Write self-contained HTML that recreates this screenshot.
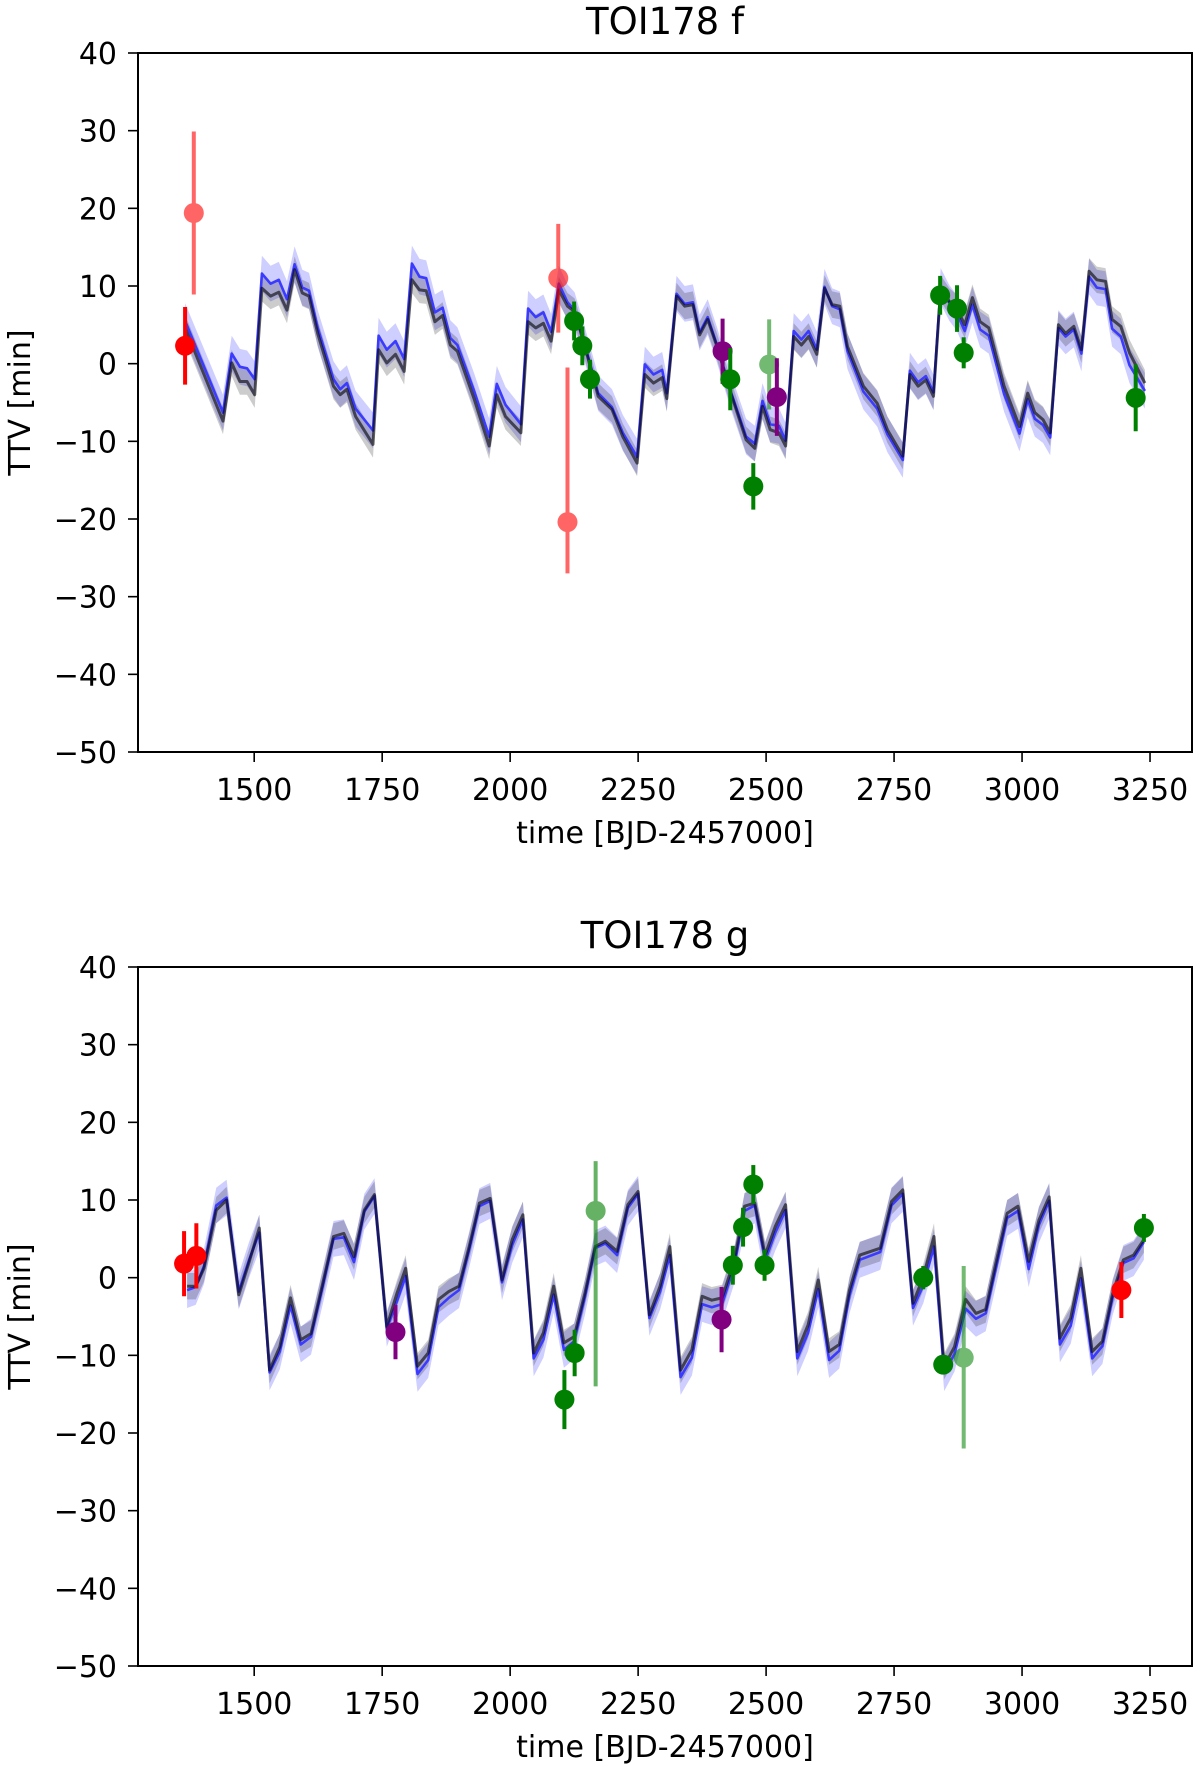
<!DOCTYPE html>
<html><head><meta charset="utf-8"><style>
html,body{margin:0;padding:0;background:#fff;}
svg{display:block;font-family:"DejaVu Sans","Liberation Sans",sans-serif;}
</style></head><body>
<svg id="fig" width="1200" height="1767" viewBox="0 0 1200 1767" xmlns="http://www.w3.org/2000/svg"></svg>
<script>
// ---------- data: panel f ----------
const fTimes = [1365,1439,1456,1472,1486,1501,1515,1532,1548,1564,1579,1594,1607,1624,1655,1668,1681,1698,1732,1743,1759,1776,1793,1808,1823,1836,1853,1868,1883,1897,1930,1959,1974,1991,2021,2035,2050,2065,2080,2095,2112,2126,2146,2172,2199,2220,2248,2263,2280,2297,2306,2325,2341,2357,2370,2386,2404,2431,2461,2478,2493,2508,2525,2538,2554,2569,2583,2599,2614,2629,2644,2659,2690,2717,2737,2767,2781,2797,2812,2827,2841,2858,2872,2888,2903,2918,2935,2965,2995,3011,3025,3041,3055,3071,3085,3101,3116,3131,3146,3163,3176,3193,3210,3240];
const fGray = [4.6,-7.4,0.1,-2.3,-2.3,-4.0,9.7,8.7,9.2,6.9,12.1,9.1,8.7,3.9,-2.9,-4.0,-3.3,-6.8,-10.4,1.8,0.1,1.2,-1.0,10.8,9.5,9.4,5.4,6.2,2.4,1.6,-4.6,-10.6,-4.0,-6.8,-8.9,5.4,4.6,5.2,2.9,9.5,7.4,6.7,2.2,-4.2,-5.9,-9.4,-12.8,-1.4,-2.5,-1.8,-4.5,8.7,7.4,7.6,3.7,5.7,2.2,-3.8,-9.8,-10.9,-5.5,-8.5,-8.9,-10.6,3.5,2.4,3.5,1.2,9.7,7.6,7.4,2.2,-2.9,-5.1,-8.5,-11.9,-1.4,-2.9,-2.1,-4.2,9.7,8.0,7.2,5.0,8.5,5.4,4.6,-2.9,-8.1,-3.8,-6.3,-7.2,-8.9,5.0,3.9,4.8,1.8,11.9,10.8,10.6,5.7,4.8,1.4,-2.5];
const fBlue = [5.5,-6.3,1.3,-0.4,-0.6,-2.0,11.6,10.3,10.8,8.3,12.8,9.8,9.4,4.6,-2.0,-3.3,-2.5,-5.8,-8.6,3.6,1.8,2.9,0.6,12.9,11.2,11.0,6.6,7.2,3.3,2.4,-3.6,-9.4,-2.6,-5.3,-7.8,7.1,6.0,6.6,4.1,10.3,7.9,6.9,2.4,-3.8,-5.6,-8.9,-12.0,-0.1,-1.4,-0.8,-3.8,9.0,7.7,7.9,4.0,6.0,2.4,-3.6,-9.4,-10.3,-4.8,-7.8,-8.0,-9.9,4.2,3.1,4.2,1.8,9.9,7.4,7.0,1.6,-3.6,-5.8,-9.1,-12.4,-0.9,-2.4,-1.6,-3.7,10.0,7.8,6.6,4.2,7.6,4.4,3.6,-3.9,-9.0,-4.6,-7.1,-7.9,-9.5,4.6,3.5,4.4,1.3,11.2,9.8,9.6,4.5,3.5,-0.2,-3.5];
const fObsT = [1365,1382,2094,2112,2125,2141,2156,2415,2430,2475,2506,2521,2840,2873,2886,3222];
const fObsV = [2.3,19.4,11.0,-20.4,5.5,2.3,-2.0,1.6,-2.0,-15.8,-0.1,-4.3,8.8,7.1,1.4,-4.4];
const fObsEu = [5.0,10.5,7.0,19.9,2.5,2.5,2.5,4.2,4.0,3.0,5.8,5.0,2.5,3.0,2.0,4.3];
const fObsEd = [5.0,10.5,7.0,6.6,2.5,2.5,2.5,4.2,4.0,3.0,5.8,5.0,2.5,3.0,2.0,4.3];
const fObsC = ['red','red','red','red','green','green','green','purple','green','green','green','purple','green','green','green','green'];
const fObsA = [1,0.6,0.6,0.6,1,1,1,1,1,1,0.55,1,1,1,1,1];

// ---------- data: panel g ----------
const gTimes = [1369,1386,1402,1426,1446,1470,1490,1510,1530,1550,1571,1591,1611,1634,1655,1675,1695,1715,1735,1759,1779,1796,1819,1840,1860,1880,1900,1920,1940,1961,1984,2004,2025,2046,2065,2085,2105,2125,2146,2166,2186,2209,2230,2250,2272,2293,2312,2333,2355,2375,2394,2414,2438,2458,2478,2498,2518,2538,2561,2582,2602,2623,2643,2663,2683,2723,2745,2767,2787,2807,2828,2848,2868,2890,2910,2929,2949,2971,2992,3013,3033,3053,3074,3095,3115,3137,3157,3177,3198,3218,3238];
const gGray = [-1.1,-1.1,1.2,8.7,10.0,-2.2,2.0,6.4,-11.9,-8.9,-2.6,-8.0,-7.2,-0.7,5.3,5.7,2.7,8.7,10.7,-6.3,-2.0,1.2,-11.4,-9.7,-2.8,-1.8,-1.1,4.0,9.6,10.2,-0.3,4.9,8.1,-9.7,-7.1,-1.1,-8.4,-7.6,-2.0,4.0,4.7,3.4,9.4,11.1,-4.8,-1.1,4.0,-11.9,-9.3,-2.4,-2.9,-2.6,2.3,9.2,9.6,2.9,6.6,9.4,-9.5,-6.1,-0.3,-9.5,-8.6,-1.6,2.9,3.8,9.8,11.3,-3.3,0.1,5.3,-11.4,-8.9,-2.8,-4.6,-4.1,1.9,8.3,9.2,2.1,7.4,10.4,-7.8,-5.2,1.2,-9.5,-8.2,-2.0,2.3,2.9,4.9];
const gBlue = [-1.6,-1.2,1.5,9.3,10.3,-1.8,2.3,5.8,-12.2,-9.5,-3.6,-8.6,-7.6,-1.1,5.0,5.2,2.0,8.5,10.5,-6.6,-3.0,0.2,-12.4,-10.6,-3.8,-2.6,-1.6,3.6,9.2,9.9,-0.6,4.2,7.5,-10.4,-8.0,-2.2,-9.3,-8.2,-2.5,3.8,4.4,2.9,9.0,10.8,-5.2,-1.8,2.9,-12.8,-10.3,-3.4,-3.8,-3.4,1.6,8.6,9.3,2.2,5.8,8.7,-10.4,-7.1,-1.5,-10.6,-9.4,-2.3,2.3,3.3,9.3,10.8,-3.9,-1.0,4.0,-12.3,-9.8,-4.0,-5.3,-4.6,1.2,7.7,8.6,1.1,6.8,9.9,-8.6,-6.2,-0.1,-10.4,-8.8,-2.5,1.9,2.5,4.6];
const gObsT = [1363,1387,1776,2106,2126,2167,2413,2435,2455,2475,2497,2807,2846,2886,3194,3238];
const gObsV = [1.8,2.8,-7.0,-15.7,-9.7,8.6,-5.4,1.6,6.5,12.0,1.6,0.0,-11.2,-10.3,-1.6,6.4];
const gObsEu = [4.2,4.2,3.5,3.8,3.0,6.4,4.2,2.5,2.5,2.5,2.0,1.5,1.0,11.8,3.6,1.8];
const gObsEd = [4.2,4.2,3.5,3.8,3.0,22.6,4.2,2.5,2.5,2.5,2.0,1.5,1.0,11.7,3.6,1.8];
const gObsC = ['red','red','purple','green','green','green','purple','green','green','green','green','green','green','green','red','green'];
const gObsA = [1,1,1,1,1,0.6,1,1,1,1,1,1,1,0.55,1,1];

const xTicks = [1500,1750,2000,2250,2500,2750,3000,3250];
const yTicks = [40,30,20,10,0,-10,-20,-30,-40,-50];

const NS = 'http://www.w3.org/2000/svg';
const svg = document.getElementById('fig');
function mk(tag, attrs, parent){
  const e = document.createElementNS(NS, tag);
  for (const k in attrs) e.setAttribute(k, attrs[k]);
  (parent||svg).appendChild(e);
  return e;
}
const L = 138, R = 1192, H = 699;
const X0 = 1273, X1 = 3332, Y0 = -50, Y1 = 40;
function xs(t){ return L + (t - X0) / (X1 - X0) * (R - L); }
function ysF(top){ return v => top + (Y1 - v) / (Y1 - Y0) * H; }

function panel(top, title, key, times, gray, blue, oT, oV, oEu, oEd, oC, oA){
  const ys = ysF(top);
  const g = mk('g', {});
  
  
  const cp = mk('clipPath', {id: 'clip-' + key}, g);
  mk('rect', {x: L, y: top, width: R - L, height: H}, cp);
  const plot = mk('g', {'clip-path': 'url(#clip-' + key + ')'}, g);
  
  
  function band(vals, w, fill, name){
    let up = '', dn = '';
    for (let i = 0; i < times.length; i++) up += (i ? 'L' : 'M') + xs(times[i]).toFixed(1) + ',' + ys(vals[i] + w).toFixed(1);
    for (let i = times.length - 1; i >= 0; i--) dn += 'L' + xs(times[i]).toFixed(1) + ',' + ys(vals[i] - w).toFixed(1);
    const p = mk('path', {d: up + dn + 'Z', fill: fill, stroke: 'none'}, plot);
    
    
  }
  function line(vals, stroke, width, op, name){
    let d = '';
    for (let i = 0; i < times.length; i++) d += (i ? 'L' : 'M') + xs(times[i]).toFixed(1) + ',' + ys(vals[i]).toFixed(1);
    const p = mk('path', {d: d, fill: 'none', stroke: stroke, 'stroke-width': width, 'stroke-opacity': op, 'stroke-linejoin': 'round'}, plot);
    
    
  }
  band(blue, 2.3, 'rgba(60,60,255,0.25)', 'blue-model-band');
  band(gray, 1.7, 'rgba(0,0,0,0.2)', 'gray-model-band');
  line(blue, '#3b3bff', 2.6, 1, 'blue-model-line');
  line(gray, '#000', 3, 0.6, 'gray-model-line');
  const cols = {red: '#ff0000', green: '#008000', purple: '#800080'};
  for (let i = 0; i < oT.length; i++){
    const c = cols[oC[i]];
    const pg = mk('g', {opacity: oA[i]}, plot);
    
    
    mk('line', {x1: xs(oT[i]), x2: xs(oT[i]), y1: ys(oV[i] + oEu[i]), y2: ys(oV[i] - oEd[i]), stroke: c, 'stroke-width': 4}, pg);
    mk('circle', {cx: xs(oT[i]), cy: ys(oV[i]), r: 10, fill: c}, pg);
  }
  const fr = mk('rect', {x: L, y: top, width: R - L, height: H, fill: 'none', stroke: '#000', 'stroke-width': 2}, g);
  
  
  for (const t of xTicks){
    const x = xs(t);
    mk('line', {x1: x, x2: x, y1: top + H, y2: top + H + 10, stroke: '#000', 'stroke-width': 1.6}, g);
    const tx = mk('text', {x: x, y: top + H + 48, 'font-size': 30, 'text-anchor': 'middle'}, g);
    tx.textContent = t;
    
    
  }
  for (const v of yTicks){
    const y = ys(v);
    mk('line', {x1: L - 10, x2: L, y1: y, y2: y, stroke: '#000', 'stroke-width': 1.6}, g);
    const ty = mk('text', {x: L - 21, y: y + 11, 'font-size': 30, 'text-anchor': 'end'}, g);
    ty.textContent = v < 0 ? '\u2212' + Math.abs(v) : String(v);
    
    
  }
  const xl = mk('text', {x: (L + R) / 2, y: top + H + 91, 'font-size': 30, 'text-anchor': 'middle'}, g);
  xl.textContent = 'time [BJD-2457000]';
  
  
  const yc = top + H / 2;
  const yl = mk('text', {x: 30, y: yc, 'font-size': 30, 'text-anchor': 'middle', transform: 'rotate(-90 30 ' + yc + ')'}, g);
  yl.textContent = 'TTV [min]';
  
  
  const tt = mk('text', {x: (L + R) / 2, y: top - 19, 'font-size': 37, 'text-anchor': 'middle'}, g);
  tt.textContent = title;
  
  
}
panel(53, 'TOI178 f', 'f', fTimes, fGray, fBlue, fObsT, fObsV, fObsEu, fObsEd, fObsC, fObsA);
panel(967, 'TOI178 g', 'g', gTimes, gGray, gBlue, gObsT, gObsV, gObsEu, gObsEd, gObsC, gObsA);
</script>
</body></html>
